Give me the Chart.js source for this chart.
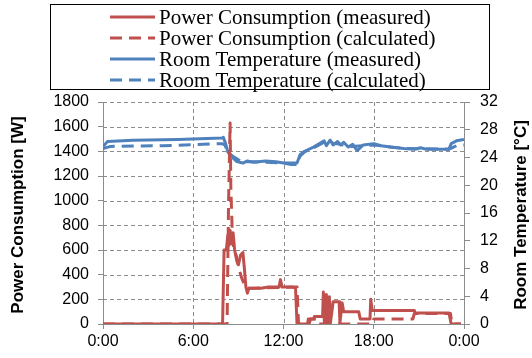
<!DOCTYPE html>
<html>
<head>
<meta charset="utf-8">
<script src="https://cdn.jsdelivr.net/npm/chart.js@4"></script>
<style>
  html, body { margin: 0; padding: 0; background: #fff; }
  #wrap { width: 532px; height: 358px; }
</style>
</head>
<body>
<div id="wrap"><canvas id="chart" width="532" height="358"></canvas></div>
<script>
// Daten (Stunden, Werte)
const powerMeasHours = [0, 7.95, 8.05, 8.2, 8.3, 8.38, 8.45, 8.55, 8.65, 8.75, 8.9, 9.0, 9.15, 9.3, 9.4, 9.5, 9.6, 9.7, 10.5, 11.0, 11.7, 11.8, 11.9, 12.6, 12.8, 12.9, 13.6, 13.65, 14.0, 14.05, 14.6, 14.65, 14.72, 14.85, 14.92, 15.05, 15.12, 15.3, 15.7, 15.75, 15.9, 16.0, 17.0, 17.1, 17.75, 17.8, 17.9, 20.7, 20.75, 23.0, 23.15, 23.8];
const powerMeasured  = [0, 0, 600, 600, 720, 640, 760, 650, 740, 600, 510, 480, 560, 580, 450, 300, 250, 290, 290, 300, 300, 360, 300, 300, 290, 0, 0, 40, 40, 60, 60, 260, 0, 240, 0, 220, 10, 180, 180, 10, 170, 100, 100, 40, 40, 200, 110, 110, 90, 90, 0, 0];

const powerCalcHours = [0, 8.25, 8.35, 8.45, 8.5, 8.6, 8.7, 8.85, 9.0, 9.2, 9.4, 9.6, 10.0, 12.9, 13.0, 13.7, 13.8, 14.2, 14.3, 17.9, 18.0, 20.6, 20.7, 23.1, 23.2, 23.8];
const powerCalculated = [0, 0, 1000, 1630, 1100, 720, 600, 560, 470, 380, 320, 290, 290, 300, 0, 0, 40, 40, 0, 0, 40, 40, 85, 85, 0, 0];

const tempMeasHours = [0, 0.3, 2, 5, 7.9, 8.0, 8.15, 8.3, 8.6, 8.9, 9.3, 9.6, 10, 10.8, 11.5, 12, 12.9, 13.1, 13.4, 14.0, 14.7, 14.85, 15.1, 15.3, 15.6, 15.8, 16.0, 16.3, 16.6, 16.9, 17.3, 18.0, 18.5, 19.1, 20.0, 20.7, 21.1, 21.5, 23.0, 23.15, 23.5, 24.0];
const tempMeasured  = [25.6, 26.3, 26.5, 26.6, 26.8, 26.9, 26.0, 24.8, 24.0, 23.4, 23.2, 23.5, 23.3, 23.5, 23.4, 23.2, 23.2, 24.4, 24.9, 25.5, 26.4, 25.7, 26.5, 25.8, 26.3, 25.8, 26.2, 25.5, 25.9, 25.0, 25.8, 26.0, 25.7, 25.5, 25.3, 25.2, 25.4, 25.2, 25.2, 26.0, 26.4, 26.6];

const tempCalcHours = [0, 0.5, 4, 7.9, 8.1, 8.3, 8.6, 8.9, 9.2, 10, 12, 12.5, 12.9, 13.1, 13.4, 14, 14.7, 15.5, 16.5, 18, 20, 23, 23.2, 23.5, 24];
const tempCalculated = [25.3, 25.6, 25.7, 26.0, 25.8, 24.8, 24.2, 23.8, 23.4, 23.4, 23.2, 23.0, 23.0, 24.2, 24.8, 25.4, 26.2, 26.0, 25.6, 25.8, 25.3, 25.2, 25.4, 25.7, 25.8];

const seriesLabels = ["Power Consumption (measured)", "Power Consumption (calculated)", "Room Temperature (measured)", "Room Temperature (calculated)"];
const powerTicks = [0, 200, 400, 600, 800, 1000, 1200, 1400, 1600, 1800];
const tempTicks = [0, 4, 8, 12, 16, 20, 24, 28, 32];
const hourTicks = [0, 6, 12, 18, 24];

const RED = "#C0504D";
const BLUE = "#4F81BD";
const DASH = [12, 7];
const GRID = "#8c8c8c";

function toPoints(xs, ys) {
    return xs.map((x, i) => ({ x: x, y: ys[i] }));
}

// gestrichelte Gitterlinien, Legende und Achsentitel selbst zeichnen
const extraDraw = {
    id: "extraDraw",
    beforeDatasetsDraw(chart) {
        const ctx = chart.ctx;
        const a = chart.chartArea;
        const xs = chart.scales.x, ys = chart.scales.y;
        ctx.save();
        ctx.strokeStyle = GRID;
        ctx.lineWidth = 1;
        ctx.setLineDash([4, 3]);
        ctx.beginPath();
        powerTicks.forEach(v => {
            if (v === 0) return;
            const y = Math.round(ys.getPixelForValue(v)) + 0.5;
            ctx.moveTo(a.left, y);
            ctx.lineTo(a.right, y);
        });
        hourTicks.forEach(v => {
            if (v === 0 || v === 24) return;
            const x = Math.round(xs.getPixelForValue(v)) + 0.5;
            ctx.moveTo(x, a.top);
            ctx.lineTo(x, a.bottom);
        });
        ctx.stroke();
        ctx.restore();
    },
    afterDraw(chart) {
        const ctx = chart.ctx;
        ctx.save();
        ctx.strokeStyle = "#000";
        ctx.lineWidth = 1;
        ctx.strokeRect(50.5, 4.5, 439, 85);
        const rows = [17, 38, 59, 80];
        ctx.font = "21px 'Liberation Serif'";
        ctx.textBaseline = "middle";
        ctx.textAlign = "left";
        chart.data.datasets.forEach((ds, i) => {
            const y = rows[i];
            ctx.strokeStyle = ds.borderColor;
            ctx.lineWidth = 3;
            ctx.setLineDash(ds.borderDash || []);
            ctx.beginPath();
            ctx.moveTo(110, y);
            ctx.lineTo(155, y);
            ctx.stroke();
            ctx.setLineDash([]);
            ctx.fillStyle = "#000";
            ctx.fillText(ds.label, 159, y + 1);
        });
        const area = chart.chartArea;
        const midY = (area.top + area.bottom) / 2;
        ctx.font = "bold 17px 'Liberation Sans Narrow', 'Liberation Sans'";
        ctx.textAlign = "center";
        ctx.fillStyle = "#000";
        ctx.translate(18, midY + 2);
        ctx.rotate(-Math.PI / 2);
        ctx.fillText("Power Consumption [W]", 0, 0);
        ctx.setTransform(1, 0, 0, 1, 0, 0);
        ctx.translate(521, midY + 2);
        ctx.rotate(-Math.PI / 2);
        ctx.fillText("Room Temperature [°C]", 0, 0);
        ctx.restore();
    }
};

const tickFont = { family: "'Liberation Sans Narrow', 'Liberation Sans'", size: 16 };

new Chart(document.getElementById("chart"), {
    type: "line",
    data: {
        datasets: [
            {
                label: seriesLabels[0],
                data: toPoints(powerMeasHours, powerMeasured),
                borderColor: RED,
                borderWidth: 3,
                yAxisID: "y"
            },
            {
                label: seriesLabels[1],
                data: toPoints(powerCalcHours, powerCalculated),
                borderColor: RED,
                borderWidth: 3,
                borderDash: DASH,
                yAxisID: "y"
            },
            {
                label: seriesLabels[2],
                data: toPoints(tempMeasHours, tempMeasured),
                borderColor: BLUE,
                borderWidth: 3,
                yAxisID: "y1"
            },
            {
                label: seriesLabels[3],
                data: toPoints(tempCalcHours, tempCalculated),
                borderColor: BLUE,
                borderWidth: 3,
                borderDash: DASH,
                yAxisID: "y1"
            }
        ]
    },
    options: {
        responsive: false,
        animation: false,
        events: [],
        elements: {
            point: { radius: 0 },
            line: { tension: 0, borderJoinStyle: "round" }
        },
        layout: { padding: { top: 102, left: 0, right: 0, bottom: 0 } },
        plugins: {
            legend: { display: false },
            tooltip: { enabled: false }
        },
        scales: {
            x: {
                type: "linear",
                min: 0,
                max: 24,
                afterBuildTicks(scale) { scale.ticks = hourTicks.map(v => ({ value: v })); },
                afterFit(scale) { scale.height = 34; },
                ticks: {
                    color: "#000",
                    font: tickFont,
                    padding: 3,
                    maxRotation: 0,
                    callback: v => (v % 24) + ":00"
                },
                grid: { drawOnChartArea: false, tickLength: 5, tickColor: GRID, color: GRID },
                border: { display: true, color: GRID }
            },
            y: {
                position: "left",
                min: 0,
                max: 1800,
                afterBuildTicks(scale) { scale.ticks = powerTicks.map(v => ({ value: v })); },
                afterFit(scale) { scale.width = 103; },
                ticks: { color: "#000", font: tickFont, padding: 9, callback: v => String(v) },
                grid: { drawOnChartArea: false, tickLength: 5, tickColor: GRID, color: GRID },
                border: { display: true, color: GRID }
            },
            y1: {
                position: "right",
                min: 0,
                max: 32,
                afterBuildTicks(scale) { scale.ticks = tempTicks.map(v => ({ value: v })); },
                afterFit(scale) { scale.width = 68; },
                ticks: { color: "#000", font: tickFont, padding: 10, callback: v => String(v) },
                grid: { drawOnChartArea: false, tickLength: 6, tickColor: GRID, color: GRID },
                border: { display: true, color: GRID }
            }
        }
    },
    plugins: [extraDraw]
});
</script>
</body>
</html>
